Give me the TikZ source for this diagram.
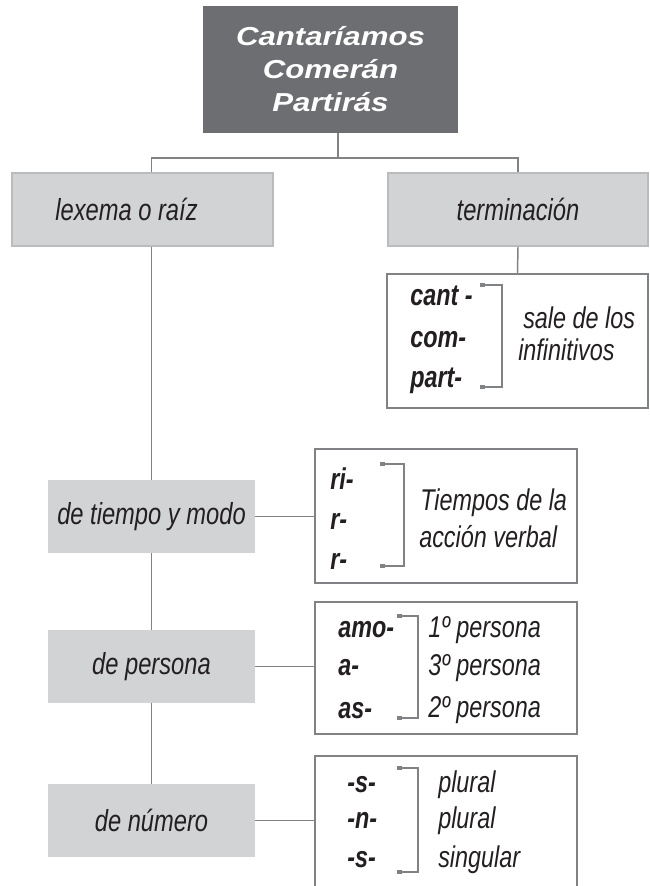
\documentclass[tikz,border=0pt]{standalone}
\usepackage{fontspec}
\setmainfont{Liberation Sans}
\newfontfamily\narrowfont[FakeStretch=0.78]{Liberation Sans}
\newfontfamily\widefont[FakeStretch=1.2]{Liberation Sans}
\usetikzlibrary{arrows.meta}
\definecolor{topgray}{HTML}{6D6E71}
\definecolor{boxgray}{HTML}{D1D3D4}
\definecolor{edgegray}{HTML}{B9BBBD}
\definecolor{linegray}{HTML}{808285}
\definecolor{inkgray}{HTML}{231F20}
\tikzset{
  topbox/.style={fill=topgray, text=white, align=center, minimum width=191.25pt, minimum height=95.25pt,
    font=\widefont\fontsize{19.5}{24.75}\selectfont\bfseries\itshape},
  graybox/.style={fill=boxgray, text=inkgray, minimum width=155.25pt, minimum height=54.75pt,
    font=\narrowfont\fontsize{22.8}{26}\selectfont\itshape},
  framebox/.style={draw=linegray, line width=1.5pt, minimum width=196.5pt, minimum height=100.5pt},
  treeline/.style={draw=linegray, line width=1.1pt},
  bracket/.style={draw=linegray, line width=1.1pt, <->, >={Square[length=3.5pt,width=3.5pt]}},
  suffix/.style={anchor=base west, inner sep=0pt, text=inkgray,
    font=\narrowfont\fontsize{22.5}{26}\selectfont\bfseries\itshape},
  gloss/.style={anchor=base west, inner sep=0pt, text=inkgray,
    font=\narrowfont\fontsize{22.5}{26}\selectfont\itshape}
}
\begin{document}
\begin{tikzpicture}[x=0.75pt,y=0.75pt,yscale=-1]
\useasboundingbox (0,0) rectangle (650,886);
\clip (0,0) rectangle (650,886);

%Top box
\node[topbox] (verbs) at (330.5,69.5) {Cantaríamos\\Comerán\\Partirás};

%Second row
\node[graybox, draw=edgegray, line width=1.5pt, minimum width=195.75pt] (lexema) at (142.5,209.5) {lexema o raíz\kern24pt};
\node[graybox, draw=edgegray, line width=1.5pt, minimum width=195pt] (term) at (518,209.5) {terminación};

%Left column
\node[graybox] (tiempo) at (151.5,516.5) {de tiempo y modo};
\node[graybox] (persona) at (151.5,666.5) {de persona};
\node[graybox] (numero) at (151.5,820.5) {de número};

%Right boxes
\node[framebox, minimum width=195.75pt] (raizbox) at (517.5,341) {};
\node[framebox] (tiempobox) at (446,516) {};
\node[framebox, minimum height=99pt] (personabox) at (446,668) {};
\node[framebox, minimum height=138pt] (numerobox) at (446,848) {};

%Tree lines
\coordinate (fork) at (338,158);
\draw[treeline] (verbs.south -| fork) -- (fork);
\draw[treeline] (lexema.north -| tiempo.north) |- (term.north |- fork) -- (term.north);
\draw[treeline] (lexema.south -| tiempo.north) -- (tiempo.north);
\draw[treeline] (tiempo.south) -- (persona.north);
\draw[treeline] (persona.south) -- (numero.north);
\draw[treeline] (term.south) -- (raizbox.north);
\draw[treeline] (tiempo.east) -- (tiempo.east -| tiempobox.west);
\draw[treeline] (persona.east) -- (persona.east -| personabox.west);
\draw[treeline] (numero.east) -- (numero.east -| numerobox.west);

%Brackets
\draw[bracket] (480,285) -| (502,387) -- (480,387);
\draw[bracket] (380,464) -| (404,566) -- (380,566);
\draw[bracket] (397,616) -| (418,718) -- (397,718);
\draw[bracket] (397,768) -| (418,872) -- (397,872);

% Text Node
\node[suffix] (cant) at (410,305) {cant -};
\node[suffix] (com) at (410,347) {com-};
\node[suffix] (part) at (410,387) {part-};
\node[gloss] (sale) at (523,328) {sale de los};
\node[gloss] (infin) at (518,360) {infinitivos};
% Text Node
\node[suffix] (ri) at (330,489) {ri-};
\node[suffix] (rone) at (330,529) {r-};
\node[suffix] (rtwo) at (330,569) {r-};
\node[gloss] (tiempos) at (420,510) {Tiempos de la};
\node[gloss] (accion) at (419,547) {acción verbal};
% Text Node
\node[suffix] (amo) at (338,637) {amo-};
\node[suffix] (a) at (338,675) {a-};
\node[suffix] (as) at (338,718) {as-};
\node[gloss] (first) at (428,637) {1º persona};
\node[gloss] (third) at (428,675) {3º persona};
\node[gloss] (second) at (428,717) {2º persona};
% Text Node
\node[suffix] (sone) at (347,792) {-s-};
\node[suffix] (n) at (347,828) {-n-};
\node[suffix] (stwo) at (347,867) {-s-};
\node[gloss] (plone) at (438,792) {plural};
\node[gloss] (pltwo) at (438,828) {plural};
\node[gloss] (sing) at (438,867) {singular};
\end{tikzpicture}
\end{document}
